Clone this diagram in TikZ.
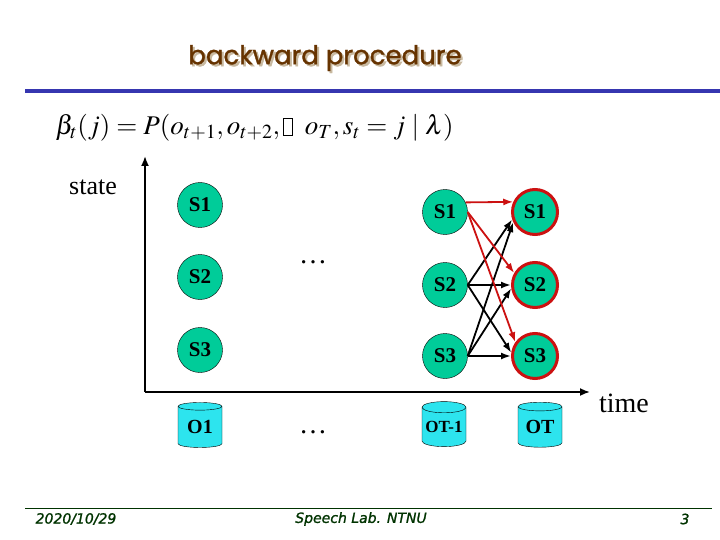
\documentclass[tikz,border=0pt]{standalone}
\usepackage{mathptmx}
\usepackage{fontspec}
\setmainfont{Liberation Serif}
\newfontfamily\titlefont[FakeBold=1.3]{Poppins}
\newfontfamily\footfont[FakeBold=1.2]{DejaVu Sans}
\usetikzlibrary{arrows.meta,shapes.geometric}
\definecolor{stgreen}{RGB}{0,204,153}
\definecolor{obscyan}{RGB}{45,228,238}
\definecolor{ringred}{RGB}{204,17,17}
\definecolor{titlebrown}{RGB}{102,51,0}
\definecolor{shadowtan}{RGB}{200,185,160}
\definecolor{barblue}{RGB}{54,54,176}
\definecolor{footgreen}{RGB}{0,51,0}
\newcommand\missbox{\mbox{\setlength\fboxsep{0pt}\setlength\fboxrule{0.5pt}\fbox{\rule{0pt}{0.62em}\hspace{0.32em}}}}
\tikzset{
  stnode/.style={circle, draw=black, fill=stgreen, minimum size=45pt, inner sep=0pt, font=\bfseries\fontsize{21}{21}\selectfont},
  ringnode/.style={stnode, draw=ringred, line width=3pt},
  obsnode/.style={cylinder, shape border rotate=90, aspect=0.3, draw=black, fill=obscyan, minimum width=44pt, minimum height=45pt, inner sep=0pt, font=\bfseries\fontsize{20}{20}\selectfont},
  axisline/.style={line width=1.8pt, -{Latex[length=10pt,width=8pt]}},
  blkarrow/.style={line width=1.8pt, -{Latex[length=10pt,width=7pt]}},
  redarrow/.style={line width=1.8pt, draw=ringred, -{Latex[length=10pt,width=7pt]}},
  foottext/.style={font=\footfont\itshape\fontsize{14}{16}\selectfont, text=footgreen},
}
\begin{document}
\begin{tikzpicture}[x=1pt,y=-1pt]
\useasboundingbox (0,0) rectangle (720,540);
\fill[white] (0,0) rectangle (720,540);
% title
\node[font=\titlefont\fontsize{26}{30}\selectfont, text=shadowtan] (titleshadow) at (327,60) {backward procedure};
\node[font=\titlefont\fontsize{26}{30}\selectfont, text=titlebrown] (title) at (325,58) {backward procedure};
\draw[line width=4pt, barblue] (25,91) -- (720,91);
% formula
\node[anchor=west, font=\fontsize{27}{32}\selectfont] (formula) at (52,128)
  {$\beta_t(j) = P(o_{t+1},o_{t+2},\missbox\;\;o_T, s_t = j \mid \lambda)$};
% axes
\coordinate (origin) at (145,392);
\coordinate (ytop) at (145,156);
\coordinate (xend) at (590,392);
\draw[axisline] (origin) -- (ytop);
\draw[axisline] (origin) -- (xend);
\node[font=\fontsize{26}{30}\selectfont, anchor=base] (state) at (93,195) {state};
\node[font=\fontsize{28}{32}\selectfont, anchor=base] (time) at (624,412) {time};
% states
\node[stnode] (a1) at (200,205) {S1};
\node[stnode] (a2) at (200,277) {S2};
\node[stnode] (a3) at (200,350) {S3};
\node[stnode] (b1) at (445,212) {S1};
\node[stnode] (b2) at (445,285) {S2};
\node[stnode] (b3) at (445,356) {S3};
\node[ringnode] (c1) at (535,212) {S1};
\node[ringnode] (c2) at (535,285) {S2};
\node[ringnode] (c3) at (535,356) {S3};
\node[font=\fontsize{28}{32}\selectfont, anchor=base] (dots1) at (313,263) {…};
\node[font=\fontsize{28}{32}\selectfont, anchor=base] (dots2) at (313,433) {…};
% transitions
\draw[blkarrow] (b2.east) -- (c1.198);
\draw[blkarrow] (b3.east) -- (c1.205);
\draw[blkarrow] (b2.east) -- (c2.west);
\draw[blkarrow] (b3.east) -- (c2.188);
\draw[blkarrow] (b2.east) -- (c3.172);
\draw[blkarrow] (b3.east) -- (c3.west);
\draw[redarrow] (b1.25) -- (c1.155);
\draw[redarrow] (b1.east) -- (c2.150);
\draw[redarrow] (b1.east) -- (c3.145);
% observations
\node[obsnode] (o1) at (200,427) {O1};
\node[obsnode, font=\bfseries\fontsize{17}{17}\selectfont] (oT1) at (444,427) {OT-1};
\node[obsnode] (oT) at (540,427) {OT};
% footer
\draw[footgreen, line width=0.8pt] (25,508) -- (712,508);
\node[foottext] (date) at (76,519) {2020/10/29};
\node[foottext] (lab) at (361,519) {Speech Lab. NTNU};
\node[foottext] (page) at (685,519) {3};
\end{tikzpicture}
\end{document}
